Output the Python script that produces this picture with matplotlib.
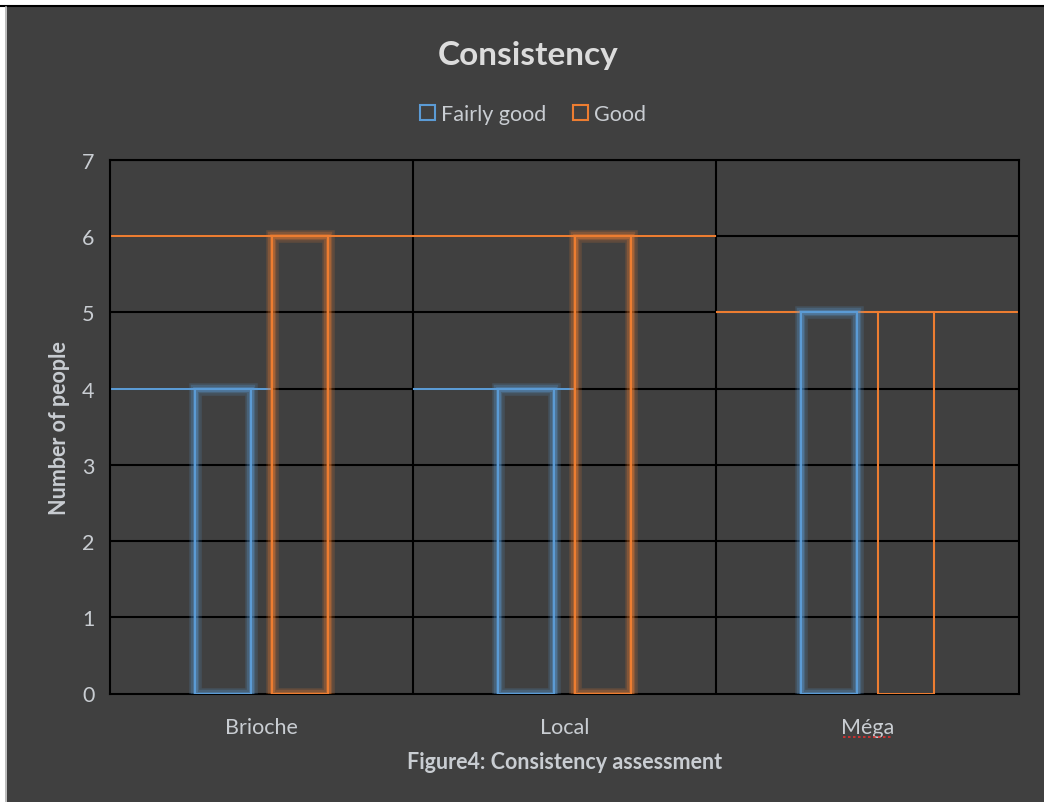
import matplotlib.pyplot as plt
from matplotlib.patches import Rectangle
from matplotlib.lines import Line2D

categories = ["Brioche", "Local", "Méga"]
fairly_good = [4, 4, 5]
good = [6, 6, 5]
series_names = ["Fairly good", "Good"]

bg = "#404040"
blue = "#5b9bd5"
orange = "#ed7d31"
txt = "#c9cdd2"
font = ["Lato", "DejaVu Sans"]
fs = 15.5

fig = plt.figure(figsize=(10.44, 8.03), dpi=100, facecolor="white")

# dark chart area inside a thin white frame
fig.patches.append(Rectangle((7 / 1044, 0), 1 - 7 / 1044, 1 - 8 / 803,
                             transform=fig.transFigure, facecolor=bg,
                             edgecolor="none", zorder=-10))
fig.lines.append(Line2D([0, 1], [1 - 6.5 / 803] * 2, transform=fig.transFigure,
                        color="black", lw=1.5, zorder=-5))
fig.lines.append(Line2D([5.5 / 1044] * 2, [0, 1 - 8 / 803], transform=fig.transFigure,
                        color="#b0b0b0", lw=1.2, zorder=-5))

ax = fig.add_axes([110 / 1044, 108.5 / 803, 909 / 1044, 533.5 / 803])
ax.set_facecolor(bg)

n = len(categories)
ax.set_xlim(-0.5, n - 0.5)
ax.set_ylim(0, 7)

# grid: black horizontal lines and category separators
for y in range(1, 8):
    ax.axhline(y, color="black", lw=1.5, zorder=1)
for b in range(1, n):
    ax.axvline(b - 0.5, color="black", lw=1.5, zorder=1)
for s in ax.spines.values():
    s.set_color("black")
    s.set_linewidth(1.5)

w = 0.185
off = 0.127
glow = [[True, True], [True, True], [True, False]]

for i, cat in enumerate(categories):
    vals = [fairly_good[i], good[i]]
    cols = [blue, orange]
    xs = [i - off, i + off]
    # level lines at the bar tops across the category
    ax.hlines(fairly_good[i], i - 0.5, xs[1] - w / 2, color=blue, lw=1.5, zorder=2)
    ax.hlines(good[i], i - 0.5, i + 0.5, color=orange, lw=1.5, zorder=2.5)
    for j in range(2):
        if glow[i][j]:
            for lw, a in [(9, 0.18), (6, 0.25), (3.5, 0.35)]:
                ax.bar(xs[j], vals[j], width=w, facecolor="none", edgecolor=cols[j],
                       lw=lw, alpha=a, zorder=3)
        ax.bar(xs[j], vals[j], width=w, facecolor="none", edgecolor=cols[j],
               lw=1.5, zorder=4)

ax.set_xticks(range(n))
ax.set_xticklabels(categories, family=font, fontsize=fs, color=txt)
ax.set_yticks(range(8))
ax.set_yticklabels([str(v) for v in range(8)], family=font, fontsize=fs, color=txt)
ax.tick_params(length=0)
ax.tick_params(axis="x", pad=17)
ax.tick_params(axis="y", pad=11)

# spell-check squiggle under the last label
ax.plot([2 - 0.08, 2 + 0.08], [-0.57, -0.57], clip_on=False,
        color="#e03030", lw=1.2, ls=(0, (1.5, 1.5)))

ax.set_ylabel("Number of people", family=font, fontsize=fs, fontweight="bold",
              color=txt, labelpad=9)

fig.text(528 / 1044, 1 - 56 / 803, "Consistency", ha="center", va="center",
         family=font, fontsize=24, fontweight="bold", color="#dcdcdc")
fig.text(565 / 1044, 1 - 763 / 803, "Figure4: Consistency assessment", ha="center",
         va="center", family=font, fontsize=fs, fontweight="bold", color=txt)

handles = [Rectangle((0, 0), 1, 1, facecolor="none", edgecolor=c, lw=1.5)
           for c in [blue, orange]]
leg = fig.legend(handles, series_names, loc="center", bbox_to_anchor=(533 / 1044, 1 - 115 / 803),
                 ncol=2, frameon=False, handlelength=0.7, handleheight=0.7,
                 handletextpad=0.3, columnspacing=1.2,
                 prop={"family": font, "size": fs})
for t in leg.get_texts():
    t.set_color(txt)

fig.savefig("out.png", dpi=100, facecolor=fig.get_facecolor())
